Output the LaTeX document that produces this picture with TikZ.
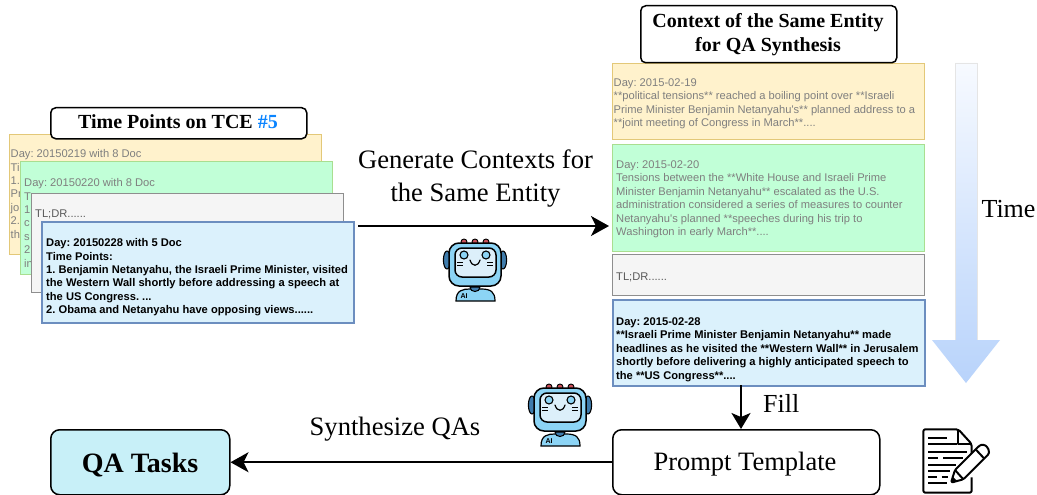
\documentclass[tikz,border=0pt]{standalone}
\usepackage{fontspec}
\setmainfont{Liberation Serif}
\newfontfamily\boxfont{Liberation Sans}
\usetikzlibrary{arrows.meta,calc,shadings}
\frenchspacing
\definecolor{yfill}{HTML}{FFF2CC}\definecolor{ydraw}{HTML}{E3C878}
\definecolor{gfill}{HTML}{C1FFD7}\definecolor{gdraw}{HTML}{A9DE90}
\definecolor{grfill}{HTML}{F5F5F5}\definecolor{grdraw}{HTML}{8E8E8E}
\definecolor{bfill}{HTML}{DBF1FC}\definecolor{bdraw}{HTML}{6C8EBF}
\definecolor{qafill}{HTML}{C8F0F8}\definecolor{fadetext}{HTML}{7F7F7F}
\definecolor{numblue}{HTML}{0A84FF}
\definecolor{timetop}{HTML}{F7FAFF}\definecolor{timebot}{HTML}{B8D3FB}
\definecolor{rblue}{HTML}{8CD4F5}\definecolor{rlight}{HTML}{DCEFFA}\definecolor{rdark}{HTML}{3F7CAC}\definecolor{rred}{HTML}{C8505A}
\tikzset{
  card/.style={draw,line width=#1,inner sep=0pt,anchor=north west},
  card/.default=1.4pt,
  yellowcard/.style={card,fill=yfill,draw=ydraw},
  greencard/.style={card,fill=gfill,draw=gdraw},
  greycard/.style={card,fill=grfill,draw=grdraw},
  bluecard/.style={card=2pt,fill=bfill,draw=bdraw},
  fadetxt/.style={inner sep=0pt,anchor=north west,align=left,text=fadetext,font=\boxfont\fontsize{11.15}{13.4}\selectfont},
  darktxt/.style={inner sep=0pt,anchor=north west,align=left,text=black,font=\boxfont\bfseries\fontsize{11.15}{13.4}\selectfont},
  greytxt/.style={inner sep=0pt,anchor=north west,align=left,text=black!65,font=\boxfont\fontsize{11.15}{13.4}\selectfont},
  titlebox/.style={draw=black,fill=white,line width=1.5pt,rounded corners=5pt,inner sep=0pt,anchor=north west},
  titletxt/.style={inner sep=0pt,align=center,font=\bfseries\fontsize{20}{24.5}\selectfont},
  flowbox/.style={draw=black,line width=1.5pt,rounded corners=9pt,inner sep=0pt,anchor=north west,align=center},
  lbl/.style={inner sep=0pt,align=center,font=\fontsize{26.6}{33}\selectfont},
  flow/.style={draw=black,line width=1.6pt,-{Stealth[length=18pt,width=20pt,inset=5pt]}},
  robot/.pic={
    \foreach \rx in {21,32,43}{\draw[fill=rred,line width=.9pt] (\rx,4) circle (3);}
    \draw[fill=rdark,line width=1.1pt] (4,22) ellipse (3.6 and 9);
    \draw[fill=rdark,line width=1.1pt] (60,22) ellipse (3.6 and 9);
    \draw[fill=rblue,line width=1.5pt,rounded corners=10pt] (6,5) rectangle (58,48);
    \draw[fill=rlight,line width=1.5pt,rounded corners=7pt] (12,10) rectangle (53,39);
    \draw[fill=rblue,line width=1.1pt] (21,17) circle (4);
    \draw[fill=rblue,line width=1.1pt] (43,17) circle (4);
    \draw[line width=1.2pt,line cap=round] (27,22) .. controls (29,29) and (35,29) .. (37,22);
    \foreach \wy in {24,27}{\draw[line width=1pt] (14,\wy) -- (20,\wy) (44,\wy) -- (50,\wy);}
    \draw[fill=rblue,line width=1.2pt] (13,63) .. controls (13,52) and (20,51) .. (27,51) -- (38,51) .. controls (48,51) and (52,54) .. (52,63) -- cycle;
    \draw[fill=rdark,line width=1pt] (27,49) .. controls (27,55) and (37,55) .. (37,49) -- cycle;
    \node[inner sep=0pt,font=\boxfont\bfseries\fontsize{7}{7}\selectfont] (-ai) at (21,58) {AI};
  },
}
\begin{document}
\begin{tikzpicture}[x=1pt,y=-1pt]
\useasboundingbox (0,0) rectangle (1037,495);
\fill[white] (0,0) rectangle (1037,495);

% left stack
\node[yellowcard,minimum width=312pt,minimum height=120pt] (ly) at (9,134) {};
\node[fadetxt] (lyt) at (10.5,149.5) {Day: 20150219 with 8 Doc\\Ti\\1.\\Pr\\jo\\2.\\th};
\node[greencard,minimum width=312pt,minimum height=113pt] (lg) at (20,161) {};
\node[fadetxt] (lgt) at (24,178.5) {Day: 20150220 with 8 Doc\\T\\1\\c\\s\\2\\in};
\node[greycard,minimum width=312pt,minimum height=99pt] (lr) at (31,193) {};
\node[greytxt] (lrt) at (35,209.5) {TL;DR......};
\node[bluecard,minimum width=312pt,minimum height=101pt] (lb) at (41,221) {};
\node[darktxt] (lbt) at (46,238.5) {Day: 20150228 with 5 Doc\\Time Points:\\1. Benjamin Netanyahu, the Israeli Prime Minister, visited\\the Western Wall shortly before addressing a speech at\\the US Congress. ...\\2. Obama and Netanyahu have opposing views......};
\node[titlebox,minimum width=256pt,minimum height=31pt] (lt) at (50,107) {};
\node[titletxt] (ltt) at (178,122) {Time Points on TCE \textcolor{numblue}{\#5}};

% right stack
\node[yellowcard,minimum width=312pt,minimum height=76pt] (ry) at (612,63) {};
\node[fadetxt] (ryt) at (613.5,78.5) {Day: 2015-02-19\\**political tensions** reached a boiling point over **Israeli\\Prime Minister Benjamin Netanyahu's** planned address to a\\**joint meeting of Congress in March**....};
\node[greencard,minimum width=312pt,minimum height=107.5pt] (rg) at (612,143.5) {};
\node[fadetxt] (rgt) at (616,160.5) {Day: 2015-02-20\\Tensions between the **White House and Israeli Prime\\Minister Benjamin Netanyahu** escalated as the U.S.\\administration considered a series of measures to counter\\Netanyahu's planned **speeches during his trip to\\Washington in early March**....};
\node[greycard,minimum width=312pt,minimum height=41pt] (rr) at (612,254) {};
\node[greytxt] (rrt) at (616,272.5) {TL;DR......};
\node[bluecard,minimum width=312pt,minimum height=86pt] (rb) at (612,299) {};
\node[darktxt] (rbt) at (616,317.5) {Day: 2015-02-28\\**Israeli Prime Minister Benjamin Netanyahu** made\\headlines as he visited the **Western Wall** in Jerusalem\\shortly before delivering a highly anticipated speech to\\the **US Congress**....};
\node[titlebox,minimum width=256pt,minimum height=57pt] (rt) at (640,5) {};
\node[titletxt] (rtt) at (768,34.5) {Context of the Same Entity\\for QA Synthesis};

% time arrow
\shade[top color=timetop,bottom color=timebot]
  (955,63) -- (977,63) -- (977,340) -- (1000,340) -- (966,383) -- (932,340) -- (955,340) -- cycle;
\draw[black!10,line width=.5pt] (955,340) -- (955,63) -- (977,63) -- (977,340);
\node[lbl,font=\fontsize{26}{30}\selectfont] (time) at (1008.5,209.5) {Time};

% boxes
\node[flowbox,minimum width=267pt,minimum height=65pt] (prompt) at (612,429) {};
\node[inner sep=0pt,font=\fontsize{26.5}{30}\selectfont] (promptt) at (745,464.5) {Prompt Template};
\node[flowbox,fill=qafill,minimum width=179pt,minimum height=65pt] (qa) at (50,429) {};
\node[inner sep=0pt,font=\bfseries\fontsize{28}{32}\selectfont] (qat) at (140,465.5) {QA Tasks};

% connectors
\coordinate (gs) at (358,226);
\coordinate (fs) at (741,385);
\draw[flow,shorten >=3pt] (gs) -- (rg.west |- gs);
\draw[flow,-{Stealth[length=16pt,width=19pt,inset=4pt]}] (fs) -- (fs |- prompt.north);
\draw[flow] (prompt.west) -- (qa.east);

% labels
\node[lbl] (gen) at (475.5,179) {Generate Contexts for\\the Same Entity};
\node[lbl,anchor=west,font=\fontsize{26}{30}\selectfont] (fill) at (763,403) {Fill};
\node[lbl] (syn) at (395,429.5) {Synthesize QAs};

% robots
\pic (r1) at (443,238) {robot};
\pic (r2) at (528,383) {robot};

% document icon
\begin{scope}[shift={(915,420)},x=.3333pt,y=-.3333pt,line width=2pt,line join=round]
  \draw[rounded corners=2pt] (170,112) -- (170,72) -- (130,28) -- (25,28) -- (25,218) -- (170,218) -- (170,172);
  \draw (130,28) -- (130,72) -- (170,72);
  \draw (40,55) -- (95,55) (40,73) -- (125,73) (40,95) -- (155,95)
        (40,115) -- (70,115) (85,115) -- (145,115) (40,135) -- (122,135)
        (40,152) -- (105,152) (40,172) -- (65,172) (80,172) -- (100,172) (40,190) -- (95,190);
  \draw[fill=white,rounded corners=1.5pt] (108,188) -- (120,150) -- (190,80) .. controls (200,72) and (212,75) .. (218,84) .. controls (224,94) and (222,102) .. (215,108) -- (145,178) -- cycle;
  \draw (120,150) -- (145,178) (182,88) -- (208,116);
  \fill (108,188) -- (113,170) -- (126,182) -- cycle;
\end{scope}
\end{tikzpicture}
\end{document}
